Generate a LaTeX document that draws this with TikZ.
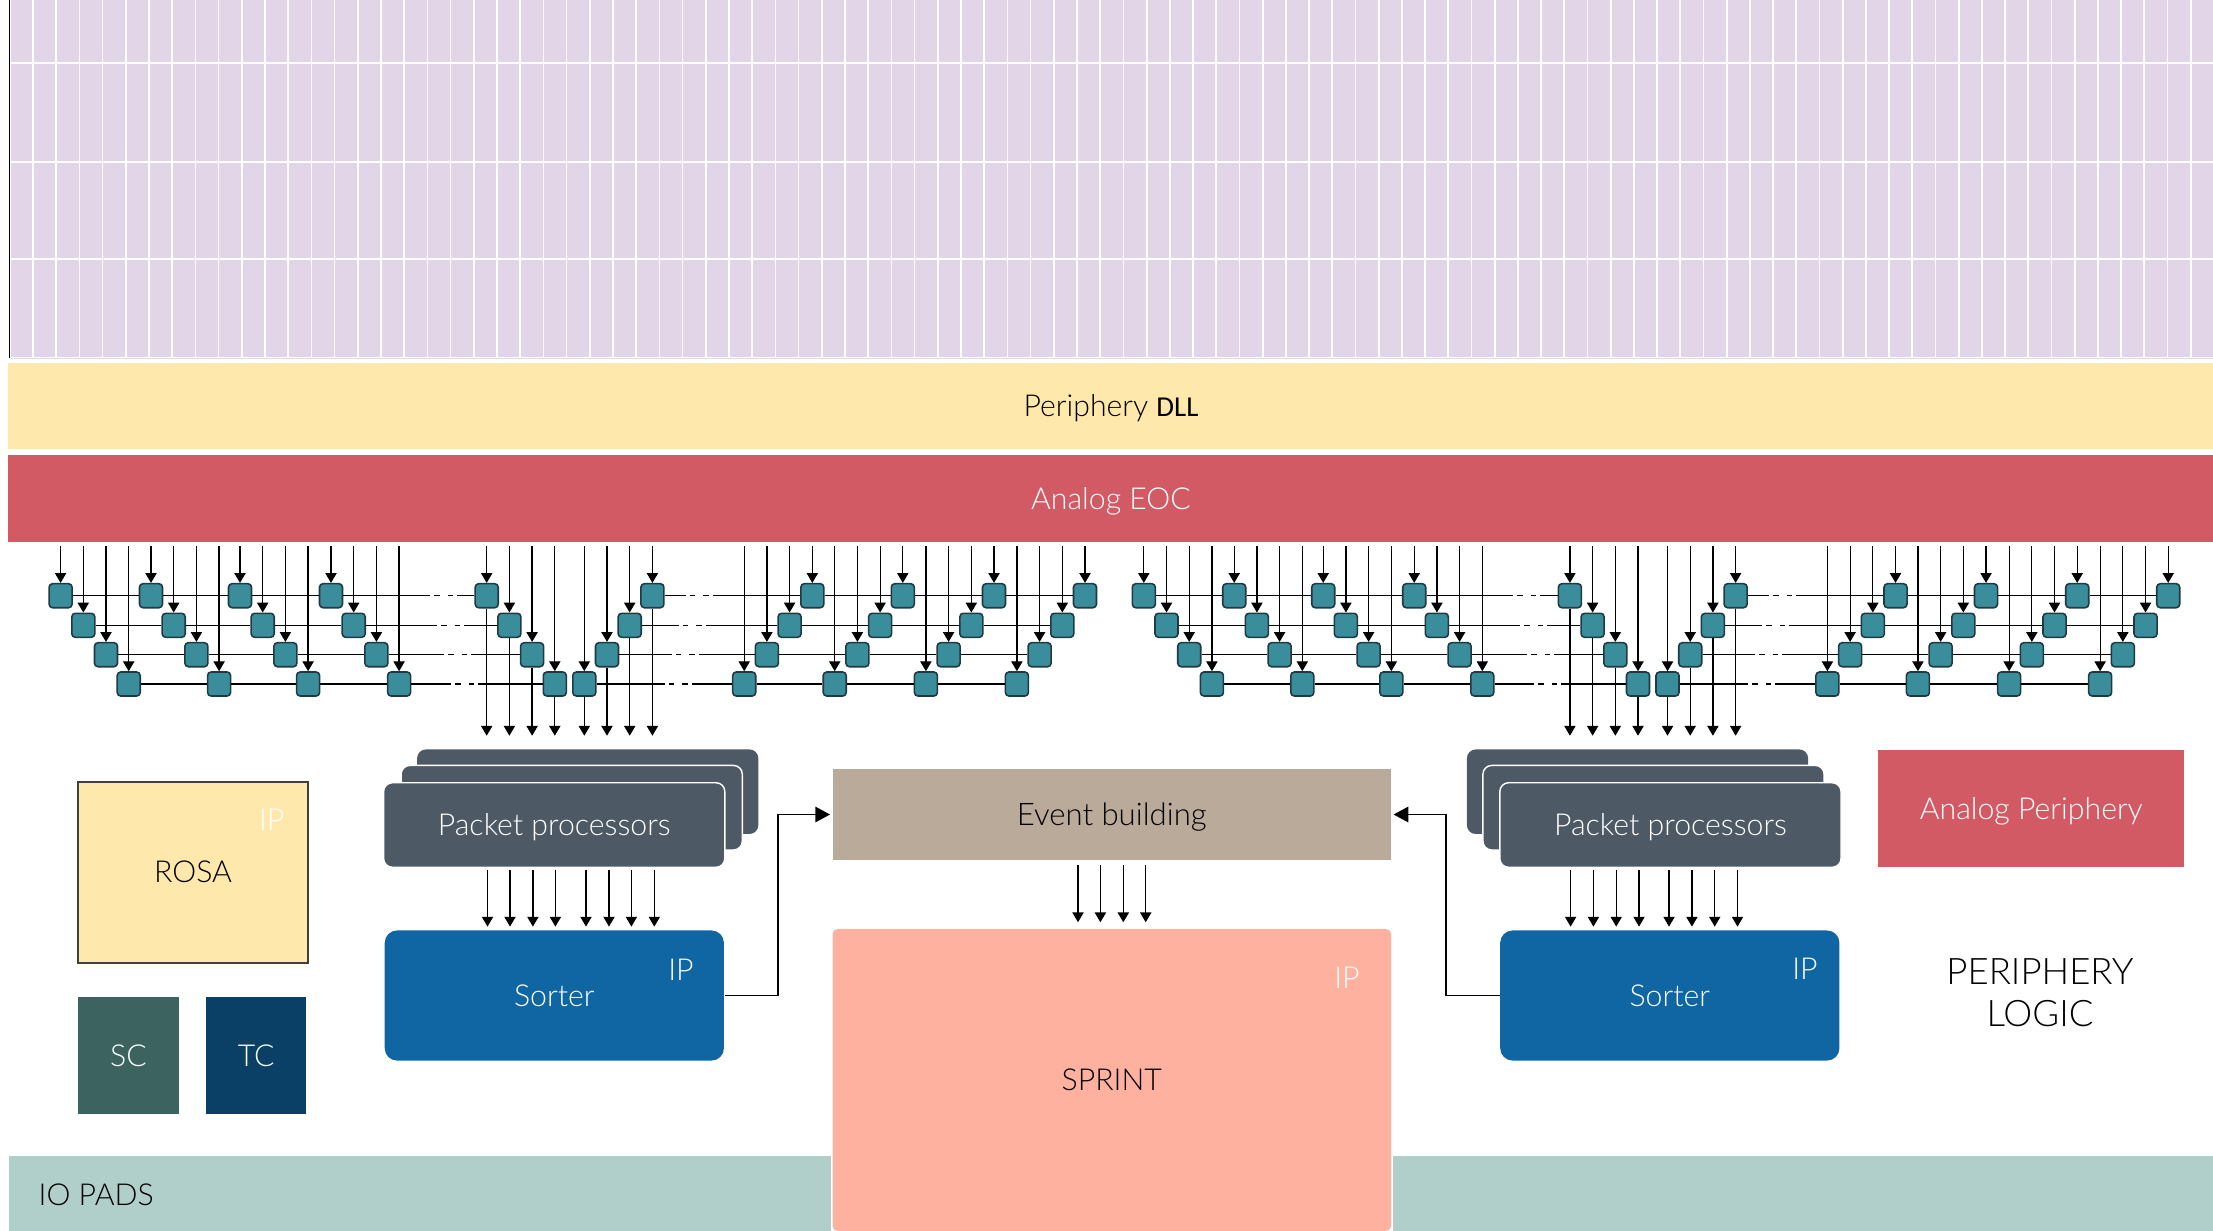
\documentclass[tikz,border=0pt]{standalone}
\usepackage{fontspec}
\setmainfont{Lato Light}
\newfontfamily\dllfont{Carlito}
\usetikzlibrary{
    arrows.meta,
    positioning
}
\definecolor{matrixlilac}{HTML}{E1D5E7}
\definecolor{dllyellow}{HTML}{FFE8AB}
\definecolor{eocred}{HTML}{D25A65}
\definecolor{padteal}{HTML}{B1CFCA}
\definecolor{cellteal}{HTML}{3A8D9A}
\definecolor{celledge}{HTML}{1E3A42}
\definecolor{pktgrey}{HTML}{4E5966}
\definecolor{sortblue}{HTML}{0F66A3}
\definecolor{eventtan}{HTML}{BAAA9A}
\definecolor{sprintsalmon}{HTML}{FFB1A0}
\definecolor{scgreen}{HTML}{3C6360}
\definecolor{tcnavy}{HTML}{0A4066}
\tikzset{
    block/.style={inner sep=0pt, text height=6.2pt, text depth=0pt, font=\fontsize{8.6}{10}\selectfont},
    bar/.style={block, fill=#1},
    cell/.style={draw=celledge, fill=cellteal, line width=0.45pt, rounded corners=1pt,
        minimum width=0.23cm, minimum height=0.24cm, inner sep=0pt},
    wire/.style={-{Triangle[length=2.8pt,width=3.2pt]}, line width=0.35pt, black},
    rung/.style={line width=0.4pt, black},
    breakline/.style={rung, dash pattern=on #1pt off 1.14pt on 1.56pt off 2.28pt on 1.56pt off 1.14pt on 60pt},
    feed/.style={-{Triangle[length=4.2pt,width=4.4pt]}, line width=0.5pt, black},
    pkt/.style={block, fill=pktgrey, rounded corners=2.5pt, minimum width=3.41cm,
        minimum height=0.845cm, text=white},
    pktfront/.style={pkt, draw=white, line width=0.4pt},
    sorter/.style={block, fill=sortblue, rounded corners=3.5pt, minimum width=3.39cm,
        minimum height=1.30cm, text=white},
    tag/.style={block, text=white}
}

\begin{document}
\begin{tikzpicture}[x=0.01cm, y=-0.01cm]
    \useasboundingbox (0,0) rectangle (2213,1230);

    \fill[matrixlilac] (11,0) rectangle (2213,359);
    \foreach \i in {0,...,94}
        \draw[white, line width=0.5pt] ({33+23.2*\i},0) -- ({33+23.2*\i},357);
    \foreach \y in {63.3,161.7,259.3,357.5}
        \draw[white, line width=0.5pt] (11,\y) -- (2213,\y);
    \draw[black, line width=0.4pt] (9.5,0) -- (9.5,358);

    \node[bar=dllyellow, minimum width=22.04cm, minimum height=0.86cm] (dll) at (1111,406) {Periphery {\dllfont\fontsize{8.2}{10}\selectfont DLL}};
    \node[bar=eocred, text=white, minimum width=22.04cm, minimum height=0.875cm] (eoc) at (1111,498.5) {Analog EOC};

    \coordinate (eocbus) at (0,546);
    \coordinate (pktbus) at (0,735.7);

    \foreach \side/\off in {l/0, r/1083.2} {
        \foreach \r/\y/\ldown/\lup in {0/595.7/86.8/21.1, 1/625.3/71.1/36.8, 2/654.7/55.4/52.5, 3/684/39.7/68.2} {
            \foreach \i/\x in {1/60.6, 2/151, 3/240, 4/331, 5/486.7}
                \node[cell] (a\side\r\i) at ({\x+\off+22.7*\r},\y) {};
            \foreach \i/\x in {1/652.4, 2/812.3, 3/902.8, 4/994, 5/1085}
                \node[cell] (b\side\r\i) at ({\x+\off-22.7*\r},\y) {};
            \foreach \i/\j in {1/2, 2/3, 3/4}
                \draw[rung] (a\side\r\i.east) -- (a\side\r\j.west);
            \foreach \i/\j in {2/3, 3/4, 4/5}
                \draw[rung] (b\side\r\i.east) -- (b\side\r\j.west);
            \pgfmathsetmacro\dashA{\ldown*0.2845}
            \pgfmathsetmacro\dashB{\lup*0.2845}
            \draw[breakline=\dashA] (a\side\r4.east) -- (a\side\r5.west);
            \draw[breakline=\dashB] (b\side\r1.east) -- (b\side\r2.west);
            \foreach \i in {1,...,5} {
                \draw[wire] (a\side\r\i.north |- eocbus) -- (a\side\r\i.north);
                \draw[wire] (b\side\r\i.north |- eocbus) -- (b\side\r\i.north);
            }
            \draw[wire] (a\side\r5.south) -- (a\side\r5.south |- pktbus);
            \draw[wire] (b\side\r1.south) -- (b\side\r1.south |- pktbus);
        }
    }

    \node[pkt] (pktlc) at (587.7,791.7) {};
    \node[pktfront] (pktlb) at (571.7,807.7) {};
    \node[pktfront] (pktl) at (554.2,825) {Packet processors};
    \node[sorter] (sorterl) at (554.3,995.5) {Sorter};
    \node[tag] (ipsorterl) at (681,969.5) {IP};

    \node[pkt] (pktrc) at (1637.5,791.7) {};
    \node[pktfront] (pktrb) at (1653.5,807.7) {};
    \node[pktfront] (pktr) at (1670.4,825) {Packet processors};
    \node[sorter] (sorterr) at (1669.8,995.5) {Sorter};
    \node[tag] (ipsorterr) at (1805,968.5) {IP};

    \foreach \x in {487.5,510,532.9,555.4,586,609,631.4,654.3} {
        \coordinate (tapl) at (\x,0);
        \draw[wire, shorten <=0.7pt, shorten >=0.9pt] (pktl.south -| tapl) -- (sorterl.north -| tapl);
    }
    \foreach \x in {1570.6,1593.4,1616.2,1639,1669,1691.9,1714.7,1737.5} {
        \coordinate (tapr) at (\x,0);
        \draw[wire, shorten <=0.7pt, shorten >=0.9pt] (pktr.south -| tapr) -- (sorterr.north -| tapr);
    }

    \node[bar=padteal, minimum width=8.21cm, minimum height=0.75cm] (padsl) at (420,1193) {};
    \node[bar=padteal, minimum width=8.2cm, minimum height=0.75cm] (padsr) at (1803.5,1193) {};
    \node[block, anchor=west] (padtext) at (38,1194.5) {IO PADS};

    \node[bar=eventtan, font=\fontsize{8.85}{10}\selectfont, minimum width=5.583cm, minimum height=0.91cm] (eventb) at (1111.8,814.5) {Event building};
    \node[bar=sprintsalmon, rounded corners=1.5pt, minimum width=5.583cm, minimum height=3.02cm] (sprint) at (1111.8,1080) {SPRINT};
    \node[tag] (ipsprint) at (1347,977.5) {IP};

    \foreach \x in {1078,1100.4,1123.3,1145.7} {
        \coordinate (tapm) at (\x,0);
        \draw[wire, shorten <=1.2pt, shorten >=1.7pt] (eventb.south -| tapm) -- (sprint.north -| tapm);
    }

    \coordinate (elbowl) at (777.9,814.5);
    \coordinate (elbowr) at (1445.6,814.5);
    \draw[feed, shorten >=0.5pt] (sorterl.east) -| (elbowl) -- (eventb.west);
    \draw[feed, shorten >=0.5pt] (sorterr.west) -| (elbowr) -- (eventb.east);

    \node[block, fill=dllyellow, draw=black!75, line width=0.6pt, minimum width=2.3cm, minimum height=1.81cm] (rosa) at (193,872.2) {};
    \node[block] (rosatext) at (193,872) {ROSA};
    \node[tag] (iprosa) at (271.7,820) {IP};
    \node[block, fill=scgreen, text=white, minimum width=1.004cm, minimum height=1.173cm] (sc) at (128.5,1055.3) {SC};
    \node[block, fill=tcnavy, text=white, minimum width=1.003cm, minimum height=1.173cm] (tc) at (256.2,1055.3) {TC};

    \node[bar=eocred, text=white, minimum width=3.055cm, minimum height=1.176cm] (analogp) at (2031.3,808.5) {Analog Periphery};
    \node[inner sep=0pt, align=center, font=\fontsize{10.4}{12}\selectfont] (logic) at (2040,992.5) {PERIPHERY\\LOGIC};
\end{tikzpicture}
\end{document}
